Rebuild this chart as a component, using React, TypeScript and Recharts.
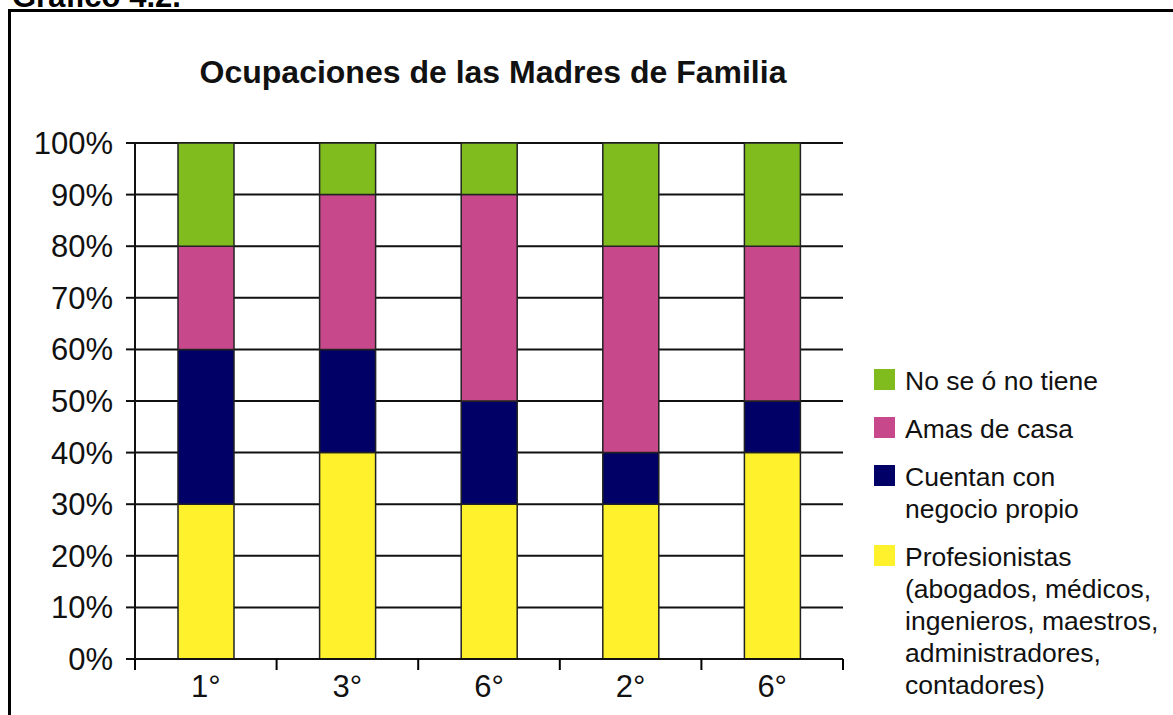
import React from "react";
import { BarChart, Bar, XAxis, YAxis, CartesianGrid } from "recharts";

const categories = ["1°", "3°", "6°", "2°", "6°"];
const profesionistas = [30, 40, 30, 30, 40];
const negocio = [30, 20, 20, 10, 10];
const amas = [20, 30, 40, 40, 30];
const noSe = [20, 10, 10, 20, 20];
const yTicks = [0, 10, 20, 30, 40, 50, 60, 70, 80, 90, 100];

const series = [
  { key: "profesionistas", values: profesionistas, color: "#FFF22C", label: ["Profesionistas", "(abogados, médicos,", "ingenieros, maestros,", "administradores,", "contadores)"] },
  { key: "negocio", values: negocio, color: "#000066", label: ["Cuentan con", "negocio propio"] },
  { key: "amas", values: amas, color: "#C8488C", label: ["Amas de casa"] },
  { key: "noSe", values: noSe, color: "#80BC1E", label: ["No se ó no tiene"] },
];

const data = categories.map((c, i) => {
  const row: Record<string, string | number> = { cat: c };
  series.forEach((s) => (row[s.key] = s.values[i]));
  return row;
});

const FONT = "'Liberation Sans', Arial, sans-serif";

const XTick = (props: any) => {
  const { x, y, payload, index, width, visibleTicksCount } = props;
  const half = payload && payload.offset != null ? payload.offset : width / visibleTicksCount / 2;
  const last = index === visibleTicksCount - 1;
  return (
    <g>
      <line x1={x - half} x2={x - half} y1={y} y2={y + 11} stroke="#000" strokeWidth={2} />
      {last && <line x1={x + half} x2={x + half} y1={y} y2={y + 11} stroke="#000" strokeWidth={2} />}
      <text x={x} y={y + 38} textAnchor="middle" fontSize={31} fontFamily={FONT} fill="#111">
        {payload.value}
      </text>
    </g>
  );
};

export default function App() {
  const legendItems = [...series].reverse();
  return (
    <div style={{ position: "absolute", left: 0, top: 0, width: 1173, height: 715, overflow: "hidden", background: "#fff", fontFamily: FONT }}>
      <div style={{ position: "absolute", left: 12, top: -19, fontSize: 31, fontWeight: "bold", lineHeight: 1, color: "#000", whiteSpace: "nowrap" }}>
        Gráfico 4.2.
      </div>
      <div style={{ position: "absolute", left: 8, top: 9, width: 1200, height: 800, border: "3px solid #000", boxSizing: "border-box" }} />
      <div style={{ position: "absolute", left: 0, width: 986, top: 56, textAlign: "center", fontSize: 32, fontWeight: "bold", lineHeight: 1, color: "#111", whiteSpace: "nowrap" }}>
        Ocupaciones de las Madres de Familia
      </div>
      <div style={{ position: "absolute", left: 0, top: 0 }}>
        <BarChart width={1173} height={715} data={data} margin={{ top: 143, right: 330, bottom: 0, left: 0 }}>
          <CartesianGrid vertical={false} stroke="#111" strokeWidth={2} strokeOpacity={1} />
          <XAxis
            dataKey="cat"
            height={56}
            tickLine={false}
            tickSize={0}
            tickMargin={0}
            axisLine={{ stroke: "#111", strokeWidth: 2 }}
            tick={<XTick />}
            interval={0}
          />
          <YAxis
            width={135}
            domain={[0, 100]}
            ticks={yTicks}
            interval={0}
            tickFormatter={(v: number) => `${v}%`}
            tickSize={9}
            tickMargin={13}
            axisLine={{ stroke: "#111", strokeWidth: 2 }}
            tickLine={{ stroke: "#111", strokeWidth: 2 }}
            tick={{ fontSize: 31, fontFamily: FONT, fill: "#111" }}
          />
          {series.map((s) => (
            <Bar key={s.key} dataKey={s.key} stackId="a" fill={s.color} stroke="#222" strokeWidth={1.5} barSize={56} isAnimationActive={false} />
          ))}
        </BarChart>
      </div>
      <div style={{ position: "absolute", left: 874, top: 365, width: 299 }}>
        {legendItems.map((s) => (
          <div key={s.key} style={{ display: "flex", alignItems: "flex-start", marginBottom: 16 }}>
            <div style={{ width: 21, height: 21, background: s.color, marginTop: 4, flex: "none" }} />
            <div style={{ marginLeft: 10, fontSize: 26.5, lineHeight: "32px", color: "#111", whiteSpace: "nowrap" }}>
              {s.label.map((l, i) => (
                <div key={i}>{l}</div>
              ))}
            </div>
          </div>
        ))}
      </div>
    </div>
  );
}
